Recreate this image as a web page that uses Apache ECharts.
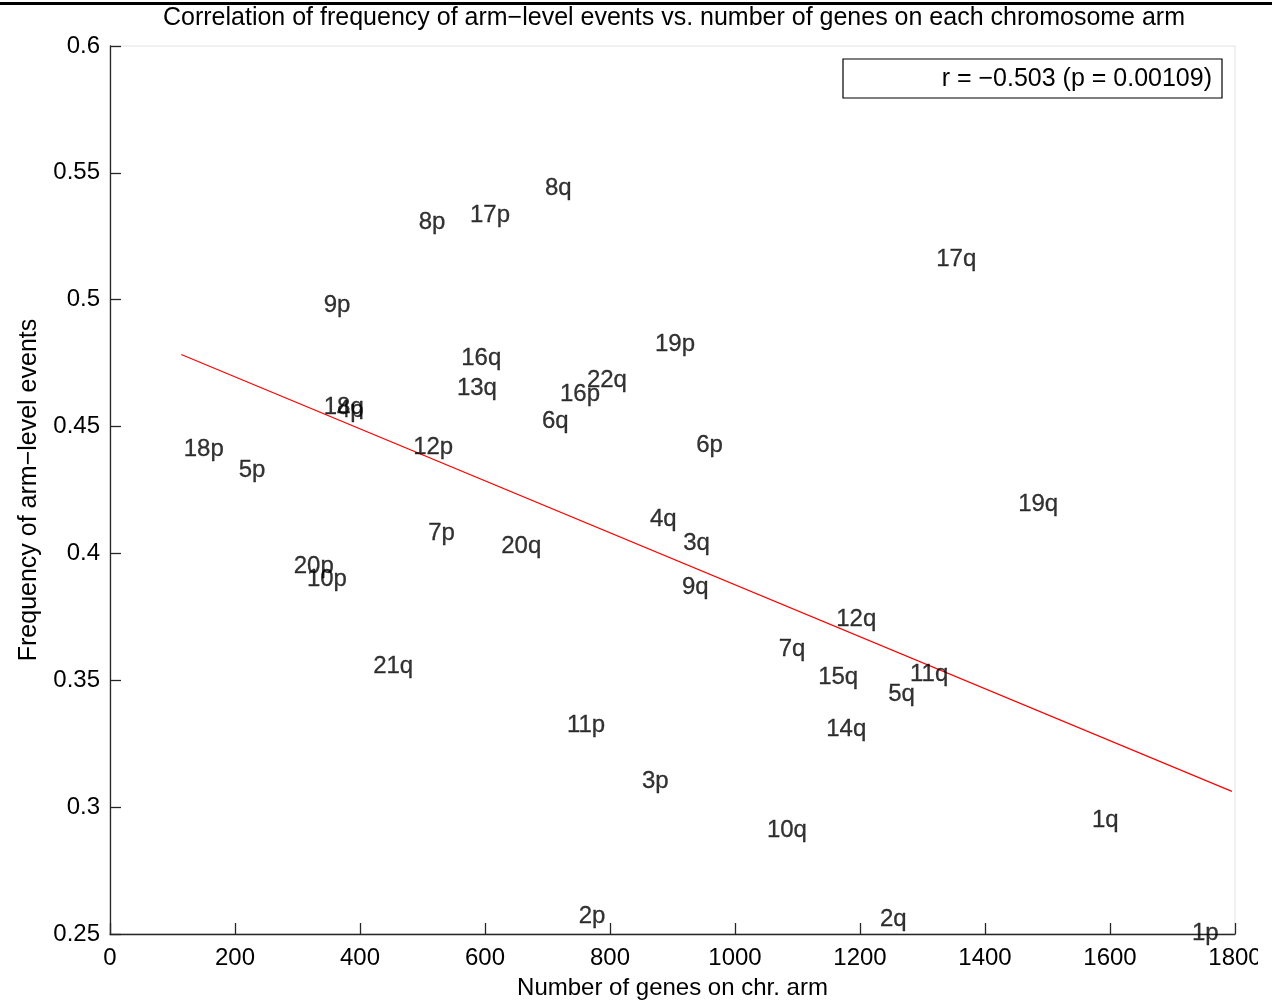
<!DOCTYPE html>
<html>
<head>
<meta charset="utf-8">
<script src="https://cdn.jsdelivr.net/npm/echarts@6/dist/echarts.min.js"></script>
<style>
html,body{margin:0;padding:0;background:#fff;}
#chart{width:1272px;height:1005px;}
</style>
</head>
<body>
<div id="chart"></div>
<script>
// Chromosome arm labels, gene counts, and frequency of arm-level events
const arms = ['8q','8p','17p','17q','9p','19p','16q','13q','22q','16p','18q','4p','6q','12p','6p','18p','5p','19q','4q','7p','3q','20q','20p','10p','9q','12q','7q','21q','15q','11q','5q','11p','14q','3p','1q','10q','2p','2q','1p'];
const genes = [696,494,576,1322,342,872,562,555,763,720,342,363,691,485,938,118,206,1453,864,509,917,626,294,315,915,1162,1070,421,1133,1280,1245,731,1146,851,1571,1051,750,1232,1731];
const freq = [0.5446,0.5312,0.5339,0.5166,0.4987,0.4830,0.4775,0.4657,0.4688,0.4633,0.4583,0.4571,0.4528,0.4426,0.4433,0.4418,0.4335,0.4201,0.4142,0.4087,0.4047,0.4036,0.3957,0.3906,0.3874,0.3748,0.3630,0.3563,0.3520,0.3531,0.3453,0.3330,0.3315,0.3110,0.2956,0.2917,0.2578,0.2566,0.2510];
// Regression line endpoints
const fitX = [114, 1795];
const fitY = [0.4784, 0.3062];
// Tick labels
const xTicks = ['0','200','400','600','800','1000','1200','1400','1600','1800'];
const yTicks = ['0.25','0.3','0.35','0.4','0.45','0.5','0.55','0.6'];
const titleText = 'Correlation of frequency of arm\u2212level events vs. number of genes on each chromosome arm';
const xName = 'Number of genes on chr. arm';
const yName = 'Frequency of arm\u2212level events';
const legendText = 'r = \u22120.503 (p = 0.00109)';

const FONT = '"Liberation Sans", Arial, sans-serif';
const chart = echarts.init(document.getElementById('chart'));
const pts = arms.map((a,i)=>[genes[i], freq[i], a]);
const axisCol = '#262626';
chart.setOption({
  animation:false,
  backgroundColor:'#fff',
  grid:{left:110,top:46,width:1125,height:888,show:true,borderColor:'#e3e3e3',borderWidth:1,containLabel:false,outerBoundsMode:'none'},
  xAxis:{type:'value',min:0,max:1800,interval:200,
    name:xName,nameLocation:'middle',nameGap:42,nameTextStyle:{fontFamily:FONT,fontSize:24,color:'#000'},
    axisLine:{lineStyle:{color:axisCol,width:1.3}},
    axisTick:{inside:true,length:11,lineStyle:{color:axisCol,width:1.3}},
    axisLabel:{fontFamily:FONT,fontSize:24,color:'#000',margin:12,formatter:(v)=>xTicks[Math.round(v/200)]},
    splitLine:{show:false}},
  yAxis:{type:'value',min:0.25,max:0.6,interval:0.05,
    name:yName,nameLocation:'middle',nameGap:68,nameTextStyle:{fontFamily:FONT,fontSize:25,color:'#000'},
    axisLine:{lineStyle:{color:axisCol,width:1.3}},
    axisTick:{inside:true,length:11,lineStyle:{color:axisCol,width:1.3}},
    axisLabel:{fontFamily:FONT,fontSize:24,color:'#000',margin:10,formatter:(v)=>yTicks[Math.round((v-0.25)/0.05)]},
    splitLine:{show:false}},
  series:[
    {type:'line',data:fitX.map((x,i)=>[x,fitY[i]]),symbol:'none',lineStyle:{color:'#ff0000',width:1.2},z:1},
    {type:'scatter',data:pts,symbolSize:0,z:2,
      label:{show:true,position:'right',distance:0,offset:[0,2],formatter:(p)=>p.data[2],fontFamily:FONT,fontSize:24,color:'#000',textBorderColor:'#000',textBorderWidth:0.3}}
  ],
  graphic:[
    {type:'rect',shape:{x:0,y:2,width:1272,height:3},style:{fill:'#000'}},
    {type:'text',style:{text:titleText,x:674,y:18,align:'center',verticalAlign:'middle',font:'25px '+FONT,fill:'#000'}},
    {type:'rect',shape:{x:843,y:59,width:379,height:39},style:{fill:'#fff',stroke:'#000',lineWidth:1.2},z:10},
    {type:'text',style:{text:legendText,x:1212,y:79,align:'right',verticalAlign:'middle',font:'25px '+FONT,fill:'#000'},z:11},
    {type:'rect',shape:{x:1258,y:936,width:14,height:69},style:{fill:'#fff'},z:20}
  ]
});
</script>
</body>
</html>
